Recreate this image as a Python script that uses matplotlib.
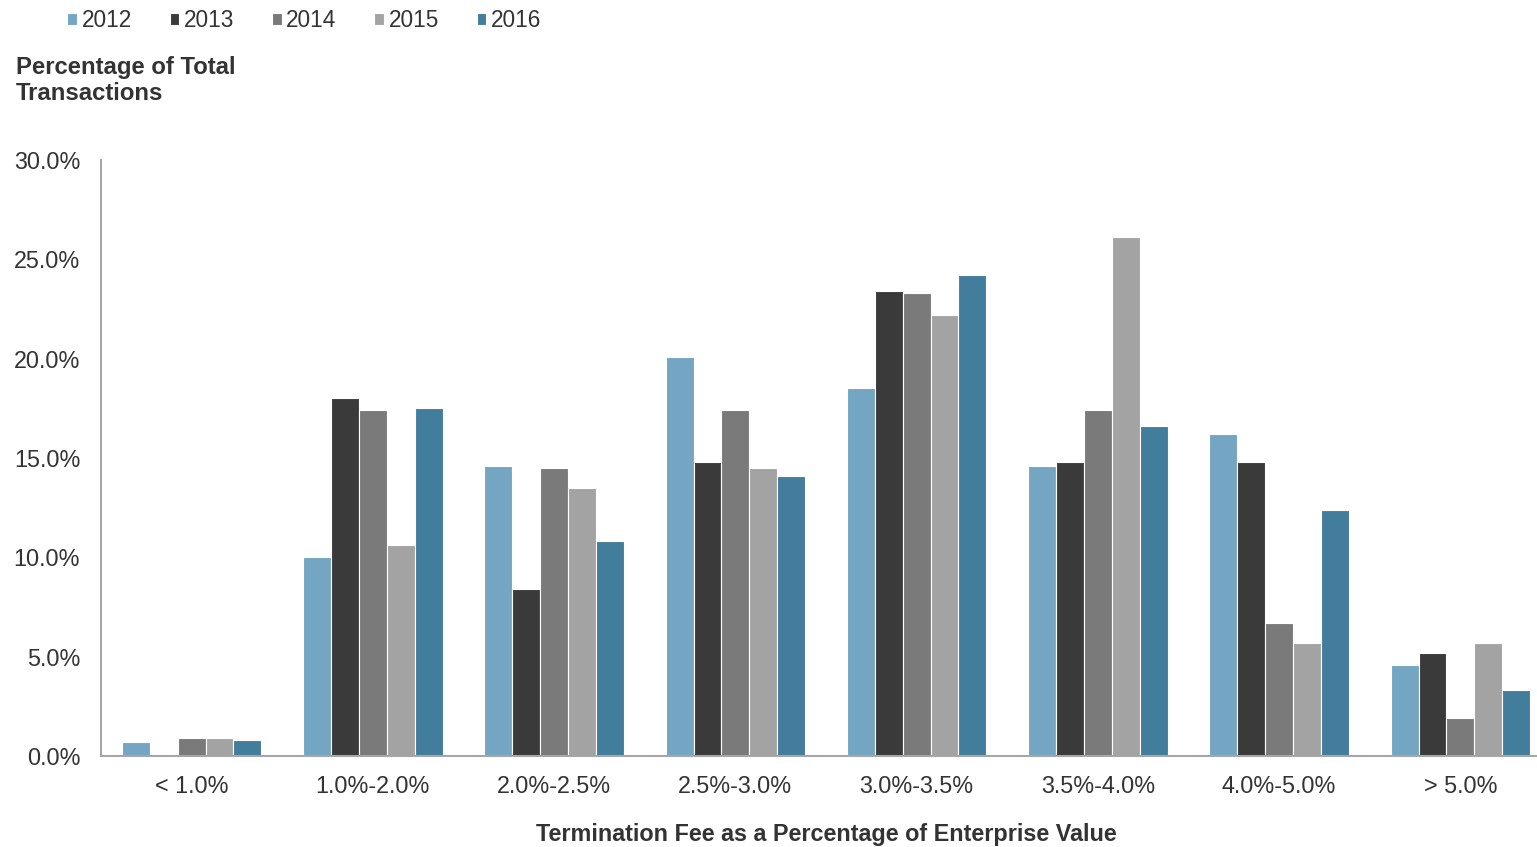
import numpy as np
import matplotlib.pyplot as plt
from matplotlib.ticker import FuncFormatter

plt.rcParams['font.family'] = ['Liberation Sans', 'DejaVu Sans']

# fee buckets and share of deals per year (%)
buckets = ['< 1.0%', '1.0%-2.0%', '2.0%-2.5%', '2.5%-3.0%', '3.0%-3.5%',
           '3.5%-4.0%', '4.0%-5.0%', '> 5.0%']
years = ['2012', '2013', '2014', '2015', '2016']
share_2012 = [0.7, 10.0, 14.6, 20.1, 18.5, 14.6, 16.2, 4.6]
share_2013 = [0.0, 18.0, 8.4, 14.8, 23.4, 14.8, 14.8, 5.2]
share_2014 = [0.9, 17.4, 14.5, 17.4, 23.3, 17.4, 6.7, 1.9]
share_2015 = [0.9, 10.6, 13.5, 14.5, 22.2, 26.1, 5.7, 5.7]
share_2016 = [0.8, 17.5, 10.8, 14.1, 24.2, 16.6, 12.4, 3.3]
series = [share_2012, share_2013, share_2014, share_2015, share_2016]
colors = ['#74A6C4', '#3A3A3A', '#7A7A7A', '#A3A3A3', '#437D9C']

FS = 16.8
fig = plt.figure(figsize=(15.37, 8.47), dpi=100)
ax = fig.add_axes([101 / 1537, 91 / 847, 1450 / 1537, 596 / 847])

x = np.arange(len(buckets))
w = 0.154
for i, (vals, c, yr) in enumerate(zip(series, colors, years)):
    ax.bar(x + (i - 2) * w, vals, width=w, color=c, edgecolor='white',
           linewidth=0.8, label=yr, zorder=2)

ax.set_xlim(-0.5, len(buckets) - 0.5)
ax.set_ylim(0, 30)
ax.set_yticks(np.arange(0, 31, 5))
ax.yaxis.set_major_formatter(FuncFormatter(lambda v, p: f'{v:.1f}%'))
ax.set_xticks(x)
ax.set_xticklabels(buckets)
ax.tick_params(axis='both', length=0, labelsize=FS, colors='#333333')
ax.tick_params(axis='y', pad=15)
ax.tick_params(axis='x', pad=14)

for s in ['top', 'right']:
    ax.spines[s].set_visible(False)
for s in ['left', 'bottom']:
    ax.spines[s].set_color('#A6A6A6')
    ax.spines[s].set_linewidth(1.5)
ax.spines['bottom'].set_zorder(3)

ax.set_xlabel('Termination Fee as a Percentage of Enterprise Value',
              fontsize=FS, fontweight='bold', color='#333333', labelpad=18)
fig.text(16 / 1537, 1 - 80.5 / 847, 'Percentage of Total\nTransactions',
         fontsize=17.2, fontweight='bold', color='#333333', va='center',
         linespacing=1.15)

leg = fig.legend(loc='upper left', bbox_to_anchor=(47 / 1537, 1.013), ncol=5,
                 frameon=False, fontsize=16.3, handlelength=0.42,
                 handleheight=0.42, handletextpad=0.2, columnspacing=1.68,
                 labelcolor='#333333')

fig.savefig('out.png', dpi=100)
